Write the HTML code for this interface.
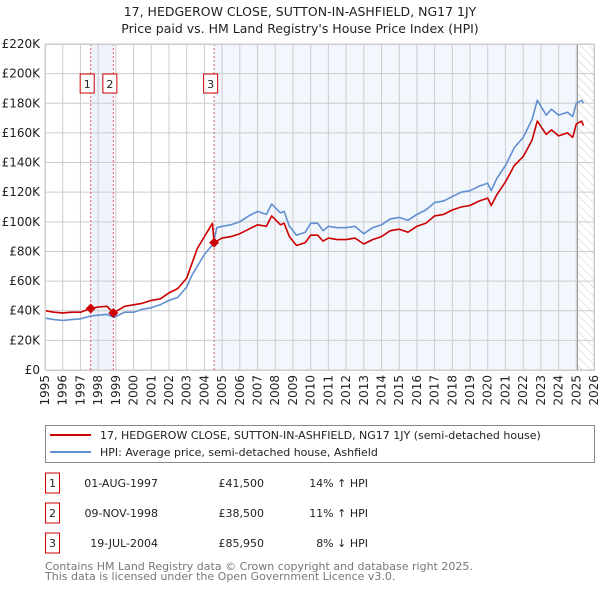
<!DOCTYPE html>
<html><head><meta charset="utf-8"><style>
body{margin:0;background:#fff;font-family:"Liberation Sans","DejaVu Sans",sans-serif;}
svg text{font-family:"DejaVu Sans","Liberation Sans",sans-serif;}
</style></head><body>
<svg id="chart" width="600" height="590" xmlns="http://www.w3.org/2000/svg">
<defs><pattern id="hatch" width="6" height="6" patternUnits="userSpaceOnUse" patternTransform="rotate(-45)"><line x1="0" y1="0" x2="0" y2="6" stroke="#ccc" stroke-width="1"/></pattern></defs>
<text x="300" y="16" text-anchor="middle" font-size="12.5" fill="#222">17, HEDGEROW CLOSE, SUTTON-IN-ASHFIELD, NG17 1JY</text>
<text x="300" y="33" text-anchor="middle" font-size="12.5" fill="#222">Price paid vs. HM Land Registry's House Price Index (HPI)</text>
<g id="plot"></g>
<g>
<rect x="45.5" y="425.5" width="549" height="37" fill="#fff" stroke="#888"/>
<line x1="50" y1="435" x2="91" y2="435" stroke="#cc0000" stroke-width="2"/>
<text x="100" y="439" font-size="11" fill="#222">17, HEDGEROW CLOSE, SUTTON-IN-ASHFIELD, NG17 1JY (semi-detached house)</text>
<line x1="50" y1="452" x2="91" y2="452" stroke="#6090d0" stroke-width="2"/>
<text x="100" y="456" font-size="11" fill="#222">HPI: Average price, semi-detached house, Ashfield</text>
</g>
<g id="table" font-size="11" fill="#222"></g>
<text x="45" y="570" font-size="11" fill="#777">Contains HM Land Registry data © Crown copyright and database right 2025.</text>
<text x="45" y="580" font-size="11" fill="#777">This data is licensed under the Open Government Licence v3.0.</text>
</svg>
<script>
const hpiYears=[1995,1995.5,1996,1996.5,1997,1997.6,1998,1998.5,1998.9,1999.5,2000,2000.5,2001,2001.5,2002,2002.5,2003,2003.3,2003.6,2004,2004.5,2004.7,2005,2005.5,2006,2006.5,2007,2007.5,2007.8,2008.3,2008.5,2008.8,2009.2,2009.7,2010,2010.4,2010.7,2011,2011.5,2012,2012.5,2013,2013.5,2014,2014.5,2015,2015.5,2016,2016.5,2017,2017.5,2018,2018.5,2019,2019.5,2020,2020.2,2020.5,2021,2021.5,2022,2022.5,2022.8,2023.3,2023.6,2024,2024.5,2024.8,2025,2025.3,2025.4];
const hpiValues=[35,34,33.5,34,34.5,36.5,37,37.5,35.5,39,39,41,42,44,47,49,56,64,70,78,85,96,97,98,100,104,107,105,112,106,107,97,91,93,99,99,94,97,96,96,97,92,96,98,102,103,101,105,108,113,114,117,120,121,124,126,121,129,138,150,157,169,182,172,176,172,174,171,180,182,180];
const redYears=[1995,1995.5,1996,1996.5,1997,1997.58,1998,1998.5,1998.86,1999.5,2000,2000.5,2001,2001.5,2002,2002.5,2003,2003.3,2003.6,2004,2004.45,2004.55,2005,2005.5,2006,2006.5,2007,2007.5,2007.8,2008.3,2008.5,2008.8,2009.2,2009.7,2010,2010.4,2010.7,2011,2011.5,2012,2012.5,2013,2013.5,2014,2014.5,2015,2015.5,2016,2016.5,2017,2017.5,2018,2018.5,2019,2019.5,2020,2020.2,2020.5,2021,2021.5,2022,2022.5,2022.8,2023.3,2023.6,2024,2024.5,2024.8,2025,2025.3,2025.4];
const redValues=[40,39,38.5,39,39,41.5,42.5,43,38.5,43,44,45,47,48,52,55,62,72,82,90,99,86,89,90,92,95,98,97,104,98,99,90,84,86,91,91,87,89,88,88,89,85,88,90,94,95,93,97,99,104,105,108,110,111,114,116,111,118,127,138,144,155,168,159,162,158,160,157,166,168,165];
const saleYears=[1997.58,1998.86,2004.55];
const saleValues=[41.5,38.5,85.95];
const saleLabels=["1","2","3"];
const saleDates=["01-AUG-1997","09-NOV-1998","19-JUL-2004"];
const salePrices=["£41,500","£38,500","£85,950"];
const saleDiffs=["14% ↑ HPI","11% ↑ HPI","8% ↓ HPI"];
const yTicks=[0,20,40,60,80,100,120,140,160,180,200,220];
const xTicks=[1995,1996,1997,1998,1999,2000,2001,2002,2003,2004,2005,2006,2007,2008,2009,2010,2011,2012,2013,2014,2015,2016,2017,2018,2019,2020,2021,2022,2023,2024,2025,2026];

const X0=45,X1=594,Y0=370,Y1=44;
const xs=y=>X0+(y-1995)/(2026-1995)*(X1-X0);
const ys=v=>Y0-v/220*(Y0-Y1);
const NS="http://www.w3.org/2000/svg";
const plot=document.getElementById('plot');
function mk(tag,attrs,parent){const e=document.createElementNS(NS,tag);for(const k in attrs)e.setAttribute(k,attrs[k]);(parent||plot).appendChild(e);return e;}

let r=mk('rect',{x:xs(1997.58),y:Y1,width:xs(1998.86)-xs(1997.58),height:Y0-Y1,fill:'#eef3fc'});


r=mk('rect',{x:xs(2004.55),y:Y1,width:xs(2025.07)-xs(2004.55),height:Y0-Y1,fill:'#f2f6fd'});


r=mk('rect',{x:xs(2025.07),y:Y1,width:X1-xs(2025.07),height:Y0-Y1,fill:'url(#hatch)'});



yTicks.forEach(v=>{
 const l=mk('line',{x1:X0,x2:X1,y1:ys(v),y2:ys(v),stroke:'#ccc','stroke-width':1});
 
 
 const t=mk('text',{x:40,y:ys(v)+4,'text-anchor':'end','font-size':12,fill:'#222'});
 t.textContent=v===0?'£0':'£'+v+'K';
 
 
});
xTicks.forEach(y=>{
 const l=mk('line',{x1:xs(y),x2:xs(y),y1:Y1,y2:Y0,stroke:'#ccc','stroke-width':1});
 
 
 const tx=xs(y)+4,ty=375;
 const t=mk('text',{x:tx,y:ty,'text-anchor':'end','font-size':12,fill:'#222',transform:`rotate(-90 ${tx} ${ty})`});
 t.textContent=y;
 
 
});
r=mk('line',{x1:xs(2025.07),x2:xs(2025.07),y1:Y1,y2:Y0,stroke:'#999','stroke-width':1});


saleYears.forEach((y,i)=>{
 const l=mk('line',{x1:xs(y),x2:xs(y),y1:Y1,y2:Y0,stroke:'#e06060','stroke-width':1,'stroke-dasharray':'2,2'});
 
 
});
function path(xa,va,color,name){
 const d=xa.map((y,i)=>(i?'L':'M')+xs(y).toFixed(1)+','+ys(va[i]).toFixed(1)).join('');
 const p=mk('path',{d:d,fill:'none',stroke:color,'stroke-width':1.6,'stroke-linejoin':'round'});
 
 
}
path(hpiYears,hpiValues,'#6090d0','hpi-line');
path(redYears,redValues,'#cc0000','price-paid-line');
saleYears.forEach((y,i)=>{
 const cx=xs(y),cy=ys(saleValues[i]);
 const d=mk('polygon',{points:`${cx},${cy-5} ${cx+5},${cy} ${cx},${cy+5} ${cx-5},${cy}`,fill:'#cc0000'});
 
 
 const g=mk('g',{});
 
 
 const lx=cx-3.5;
 mk('rect',{x:lx-7,y:74,width:14,height:19,fill:'#fff',stroke:'#cc0000','stroke-width':1},g);
 const t=mk('text',{x:lx,y:88,'text-anchor':'middle','font-size':11,fill:'#222'},g);
 t.textContent=saleLabels[i];
});
mk('rect',{x:X0+0.5,y:Y1+0.5,width:X1-X0,height:Y0-Y1,fill:'none',stroke:'#ccc'});

const tbl=document.getElementById('table');
saleLabels.forEach((s,i)=>{
 const y=487+i*30;
 const g=mk('g',{},tbl);
 
 
 mk('rect',{x:45.5,y:y-14,width:14,height:20,fill:'#fff',stroke:'#cc0000'},g);
 let t=mk('text',{x:52.5,y:y,'text-anchor':'middle'},g);t.textContent=s;
 t=mk('text',{x:158,y:y,'text-anchor':'end'},g);t.textContent=saleDates[i];
 t=mk('text',{x:264,y:y,'text-anchor':'end'},g);t.textContent=salePrices[i];
 t=mk('text',{x:368,y:y,'text-anchor':'end'},g);t.textContent=saleDiffs[i];
});
</script>
</body></html>
